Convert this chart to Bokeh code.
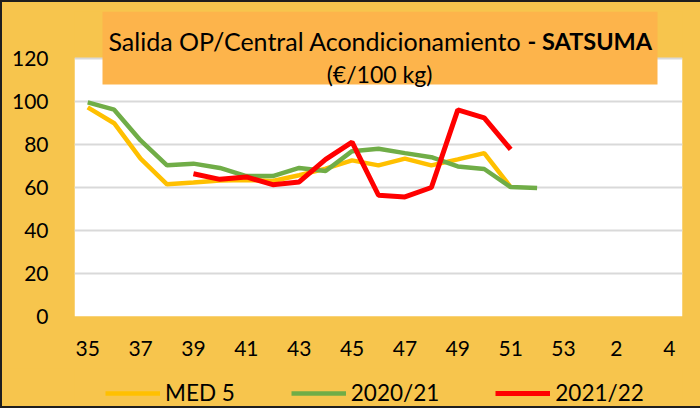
from bokeh.plotting import figure
from bokeh.layouts import column
from bokeh.models import (ColumnDataSource, Range1d, FixedTicker, Legend, LegendItem,
                          BoxAnnotation, Label)
from bokeh.embed import file_html
from bokeh.resources import INLINE

NaN = float("nan")

weeks = ["35", "36", "37", "38", "39", "40", "41", "42", "43", "44", "45", "46",
         "47", "48", "49", "50", "51", "52", "53", "1", "2", "3", "4"]
tick_labels = ["35", "37", "39", "41", "43", "45", "47", "49", "51", "53", "2", "4"]
y_ticks = [0, 20, 40, 60, 80, 100, 120]
series_names = ["MED 5", "2020/21", "2021/22"]

med5 = [97.3, 89.9, 73.4, 61.5, 62.3, 63.3, 63.5, 63.0, 65.7, 68.8, 72.6, 70.3,
        73.4, 70.3, 73.1, 76.0, 60.2, NaN, NaN, NaN, NaN, NaN, NaN]
s2020_21 = [99.6, 96.2, 81.9, 70.3, 71.1, 69.1, 65.3, 65.3, 69.1, 67.7, 76.9, 78.0,
            76.0, 74.1, 69.8, 68.6, 60.2, 59.8, NaN, NaN, NaN, NaN, NaN]
s2021_22 = [NaN, NaN, NaN, NaN, 66.4, 63.8, 64.9, 61.3, 62.6, 73.1, 81.1, 56.4,
            55.6, 60.0, 96.1, 92.4, 77.7, NaN, NaN, NaN, NaN, NaN, NaN]

xs = list(range(len(weeks)))
src = ColumnDataSource(dict(x=xs, med5=med5, a=s2020_21, b=s2021_22))

FONT = "Lato"
BG = "#F7C54D"
ORANGE = "#FDB44B"
COLORS = ["#FFC000", "#70AD47", "#FF0000"]
WIDTHS = [4.5, 4.5, 5]

OFF = 2                                  # css border width
W, H, HL = 698, 366, 38
# frame edges in page px
FL, FR, FT, FB = 74, 682, 11, 316
PXU = 2.15                               # px per y unit
y_top = (FB - FT) / PXU

p = figure(width=W, height=H, output_backend="svg", toolbar_location=None,
           x_range=Range1d(-0.5, len(weeks) - 0.5), y_range=Range1d(0, y_top),
           min_border_left=FL - OFF, min_border_right=W + OFF - FR,
           min_border_top=FT - OFF, min_border_bottom=H + OFF - FB)
p.border_fill_color = BG
p.background_fill_color = BG
p.outline_line_color = None

# white plot area (0..120)
p.add_layout(BoxAnnotation(bottom=0, top=max(y_ticks), fill_color="white", fill_alpha=1,
                           line_color=None, level="image"))

# axes
tick_pos = [weeks.index(t) for t in tick_labels]
p.xaxis.ticker = FixedTicker(ticks=tick_pos)
p.xaxis.major_label_overrides = {weeks.index(t): t for t in tick_labels}
p.yaxis.ticker = FixedTicker(ticks=y_ticks)
for ax in (p.xaxis, p.yaxis):
    ax.axis_line_color = None
    ax.major_tick_line_color = None
    ax.minor_tick_line_color = None
    ax.major_tick_out = 0
    ax.major_tick_in = 0
    ax.major_label_text_font = FONT
    ax.major_label_text_font_size = "21px"
    ax.major_label_text_color = "black"
p.yaxis.major_label_standoff = 26
p.xaxis.major_label_standoff = 24
p.xgrid.grid_line_color = None
p.ygrid.grid_line_color = "#D9D9D9"
p.ygrid.grid_line_width = 2

p.line("x", "med5", source=src, color=COLORS[0], line_width=WIDTHS[0])
p.line("x", "a", source=src, color=COLORS[1], line_width=WIDTHS[1])
p.line("x", "b", source=src, color=COLORS[2], line_width=WIDTHS[2])

# title box (positions given in page px)
def dx(px):
    return (px - FL) / ((FR - FL) / len(weeks)) - 0.5

def dy(py):
    return (FB - py) / PXU

p.add_layout(BoxAnnotation(left=dx(102), right=dx(657), bottom=dy(84),
                           fill_color=ORANGE, fill_alpha=1, line_color=None))
p.add_layout(Label(x=dx(521), y=dy(40), text="Salida OP/Central Acondicionamiento",
                   text_align="right", text_baseline="alphabetic", text_font=FONT,
                   text_font_size="25px", text_color="black"))
p.add_layout(Label(x=dx(527), y=dy(40), text="- SATSUMA",
                   text_align="left", text_baseline="alphabetic", text_font=FONT,
                   text_font_size="23.5px", text_font_style="bold", text_color="black"))
p.add_layout(Label(x=dx(379), y=dy(73.5), text="(€/100 kg)",
                   text_align="center", text_baseline="alphabetic", text_font=FONT,
                   text_font_size="23px", text_color="black"))

# legend strip
pl = figure(width=W, height=HL, output_backend="svg", toolbar_location=None,
            x_axis_type=None, y_axis_type=None, min_border=0,
            x_range=Range1d(0, 1), y_range=Range1d(0, 1))
pl.border_fill_color = BG
pl.background_fill_color = BG
pl.outline_line_color = None
pl.xgrid.visible = False
pl.ygrid.visible = False
items = []
for name, c, w in zip(series_names, COLORS, WIDTHS):
    r = pl.line(x=[NaN], y=[NaN], color=c, line_width=w)
    items.append(LegendItem(label=name, renderers=[r]))
legend = Legend(items=items, orientation="horizontal", location=(31, 0),
                background_fill_alpha=0, border_line_alpha=0,
                glyph_width=55, glyph_height=20, label_standoff=5, spacing=56,
                padding=0, margin=0,
                label_text_font=FONT, label_text_font_size="22.5px",
                label_text_color="black")
pl.add_layout(legend, "center")

layout = column(p, pl, spacing=0,
                styles={"background-color": BG,
                        "border-left": "2px solid #1E1E1E",
                        "border-top": "2px solid #1E1E1E",
                        "border-bottom": "2px solid #1E1E1E"})
open("out.html", "w").write(file_html(layout, INLINE))
